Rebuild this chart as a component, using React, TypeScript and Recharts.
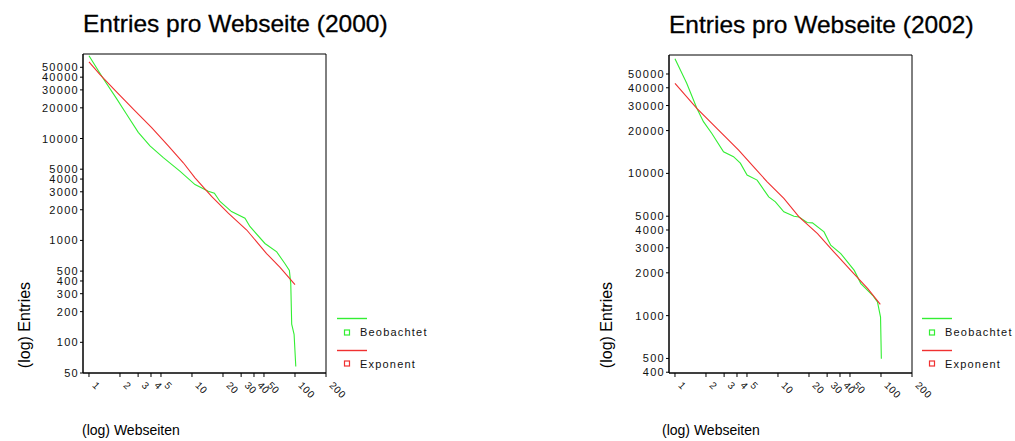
import React from "react";
import { LineChart, Line, XAxis, YAxis, ReferenceArea } from "recharts";

// ---- data ----
const xTicks = [1, 2, 3, 4, 5, 10, 20, 30, 40, 50, 100, 200];
const yTicks2000 = [50, 100, 200, 300, 400, 500, 1000, 2000, 3000, 4000, 5000, 10000, 20000, 30000, 40000, 50000];
const yTicks2002 = [400, 500, 1000, 2000, 3000, 4000, 5000, 10000, 20000, 30000, 40000, 50000];

const obs2000Rank = [1, 1.38, 1.86, 2.31, 3.01, 3.91, 5.27, 7.63, 10.7, 14.4, 16.5, 18.7, 24.2, 32.7, 36.5, 51.1, 66.5, 80, 88.2, 91, 92.9, 98, 101.8];
const obs2000Val = [64900, 38600, 24500, 17400, 11500, 8450, 6490, 4780, 3530, 3030, 2900, 2410, 1920, 1650, 1370, 933, 771, 591, 508, 375, 151, 120, 58];
const fit2000Rank = [1, 1.28, 1.86, 2.8, 4.06, 5.89, 8.24, 10.7, 15.5, 22.5, 34, 53, 71.2, 100];
const fit2000Val = [56500, 42400, 28500, 18700, 12800, 8450, 5780, 4110, 2700, 1850, 1265, 743, 548, 369];

const obs2002Rank = [1, 1.3, 1.63, 1.89, 2.28, 2.96, 3.7, 4.31, 5.01, 6.27, 8.13, 9.44, 11.4, 14.3, 16, 19.2, 21.6, 28, 32.5, 40.7, 55, 63.8, 82.9, 92.4, 99, 100.8];
const obs2002Val = [64000, 43000, 28700, 23100, 19100, 14200, 13100, 11800, 9730, 8970, 6840, 6310, 5370, 5000, 4940, 4520, 4490, 3880, 3130, 2730, 2080, 1680, 1390, 1250, 977, 498];
const fit2002Rank = [1, 1.63, 2.55, 4.15, 5.81, 7.86, 11.4, 16, 24.2, 35, 50.9, 74.4, 98.5];
const fit2002Val = [43000, 28700, 20700, 14600, 11100, 8730, 6670, 4940, 3770, 2800, 2080, 1550, 1200];

const toPoints = (xs: number[], ys: number[]) => xs.map((x, i) => ({ x, y: ys[i] }));

const GREEN = "#33ee33";
const RED = "#f03030";
const FONT = "'Liberation Sans', Arial, sans-serif";

const XTick = (props: any) => {
  const { x, y, payload } = props;
  return (
    <g transform={`translate(${x},${y})`}>
      <text
        transform="rotate(45)"
        x={7}
        y={3}
        fontSize={10}
        fontFamily={FONT}
        fill="#111"
        letterSpacing={0.5}
      >
        {payload.value}
      </text>
    </g>
  );
};

const YTick = (props: any) => {
  const { x, y, payload } = props;
  return (
    <text
      x={x}
      y={y}
      dy={4}
      textAnchor="end"
      fontSize={11}
      fontFamily={FONT}
      fill="#111"
      letterSpacing={1.3}
    >
      {payload.value}
    </text>
  );
};

type PanelProps = {
  left: number;
  width: number;
  yAxisWidth: number;
  margin: { top: number; right: number; bottom: number; left: number };
  yDomain: [number, number];
  yTicks: number[];
  obs: { x: number; y: number }[];
  fit: { x: number; y: number }[];
};

const X_DOMAIN: [number, number] = [0.875, 200];

const Panel = ({ left, width, yAxisWidth, margin, yDomain, yTicks, obs, fit }: PanelProps) => (
  <div style={{ position: "absolute", left, top: 0 }}>
    <LineChart width={width} height={441} margin={margin}>
      <XAxis
        type="number"
        dataKey="x"
        scale="log"
        domain={X_DOMAIN}
        allowDataOverflow
        ticks={xTicks}
        interval={0}
        height={68}
        tickSize={4}
        tickMargin={2}
        stroke="#000"
        tick={<XTick />}
      />
      <YAxis
        type="number"
        dataKey="y"
        scale="log"
        domain={yDomain}
        allowDataOverflow
        ticks={yTicks}
        interval={0}
        width={yAxisWidth}
        tickSize={3}
        tickMargin={1}
        stroke="#000"
        tick={<YTick />}
      />
      <ReferenceArea
        x1={X_DOMAIN[0]}
        x2={X_DOMAIN[1]}
        y1={yDomain[0]}
        y2={yDomain[1]}
        fill="none"
        stroke="#000"
        strokeWidth={1}
        ifOverflow="visible"
      />
      <Line data={obs} dataKey="y" stroke={GREEN} strokeWidth={1.1} dot={false} isAnimationActive={false} type="linear" />
      <Line data={fit} dataKey="y" stroke={RED} strokeWidth={1.1} dot={false} isAnimationActive={false} type="linear" />
    </LineChart>
  </div>
);

const LegendBlock = ({ x }: { x: number }) => (
  <g fontFamily={FONT} fontSize={11} fill="#111">
    <line x1={x} y1={318.5} x2={x + 30} y2={318.5} stroke={GREEN} strokeWidth={1.4} />
    <rect x={x + 7.5} y={330} width={5} height={5} fill="none" stroke={GREEN} strokeWidth={1.2} />
    <text x={x + 23} y={336} letterSpacing={1.2}>Beobachtet</text>
    <line x1={x} y1={350.5} x2={x + 30} y2={350.5} stroke={RED} strokeWidth={1.4} />
    <rect x={x + 7.5} y={361} width={5} height={5} fill="none" stroke={RED} strokeWidth={1.2} />
    <text x={x + 23} y={368} letterSpacing={1.2}>Exponent</text>
  </g>
);

export default function App() {
  return (
    <div style={{ position: "absolute", left: 0, top: 0, width: 1015, height: 441, background: "#fff", overflow: "hidden" }}>
      <Panel
        left={0}
        width={507}
        yAxisWidth={83}
        margin={{ top: 54, right: 181, bottom: 0, left: 0 }}
        yDomain={[50, 67500]}
        yTicks={yTicks2000}
        obs={toPoints(obs2000Rank, obs2000Val)}
        fit={toPoints(fit2000Rank, fit2000Val)}
      />
      <Panel
        left={507}
        width={508}
        yAxisWidth={162}
        margin={{ top: 55, right: 103, bottom: 0, left: 0 }}
        yDomain={[395, 68000]}
        yTicks={yTicks2002}
        obs={toPoints(obs2002Rank, obs2002Val)}
        fit={toPoints(fit2002Rank, fit2002Val)}
      />
      <svg width={1015} height={441} style={{ position: "absolute", left: 0, top: 0, pointerEvents: "none" }}>
        <g fontFamily={FONT} fill="#000">
          <text x={83} y={32} fontSize={24.5} stroke="#000" strokeWidth={0.3}>Entries pro Webseite (2000)</text>
          <text x={669} y={33} fontSize={24.5} stroke="#000" strokeWidth={0.3}>Entries pro Webseite (2002)</text>
          <text transform="translate(30,325) rotate(-90)" textAnchor="middle" fontSize={16}>(log) Entries</text>
          <text transform="translate(612,325) rotate(-90)" textAnchor="middle" fontSize={16}>(log) Entries</text>
          <text x={82} y={435} fontSize={14}>(log) Webseiten</text>
          <text x={662} y={435} fontSize={14}>(log) Webseiten</text>
        </g>
        <LegendBlock x={337} />
        <LegendBlock x={922} />
      </svg>
    </div>
  );
}
